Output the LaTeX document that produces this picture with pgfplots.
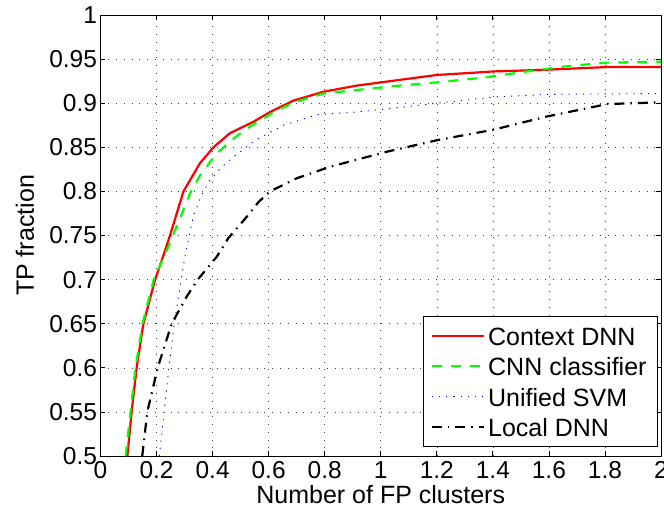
\documentclass[border=0pt]{standalone}
\usepackage{fontspec}
\setmainfont{Liberation Sans}
\usepackage{pgfplots}
\pgfplotsset{compat=1.18}
\begin{document}
\begin{tikzpicture}
\path[use as bounding box] (-100.5pt,-58pt) rectangle (563.5pt,456pt);
\begin{axis}[
  scale only axis,
  width=560.5pt, height=441pt,
  xmin=0, xmax=2, ymin=0.5, ymax=1,
  xtick={0,0.2,...,2.01},
  ytick={0.5,0.55,...,1.001},
  xticklabels={0,0.2,0.4,0.6,0.8,1,1.2,1.4,1.6,1.8,2},
  yticklabels={0.5,0.55,0.6,0.65,0.7,0.75,0.8,0.85,0.9,0.95,1},
  /pgf/number format/assume math mode=true,
  tick align=inside,
  major tick length=5pt,
  tick style={black, line width=0.8pt},
  axis line style={black, line width=1pt},
  grid=major,
  grid style={black!75, line width=0.6pt, dash pattern=on 0.8pt off 7pt},
  ticklabel style={font=\fontsize{24.5}{29}\selectfont},
  xticklabel style={yshift=-2pt},
  xlabel={Number of FP clusters},
  ylabel={TP fraction},
  label style={font=\fontsize{25}{30}\selectfont},
  xlabel style={at={(axis description cs:0.5,-0.1066)}, anchor=base},
  ylabel style={at={(axis description cs:-0.135,0.5)}, anchor=center, rotate=0},
  legend style={at={(axis description cs:0.994,0.021)}, anchor=south east,
    draw=black, line width=0.8pt, fill=white,
    font=\fontsize{25}{30}\selectfont,
    inner xsep=7.4pt, inner ysep=5pt, row sep=2.5pt,
    nodes={inner xsep=3.3pt, inner ysep=2pt, text height=21.5pt, text depth=2.5pt}},
  legend cell align=left,
  legend image code/.code={\draw[#1] (0pt,0pt) -- (52pt,0pt);},
]
\addplot[red, line width=2.2pt] coordinates {
(0.096,0.5) (0.111,0.55) (0.129,0.6) (0.153,0.65) (0.195,0.70) (0.222,0.725)
(0.250,0.752) (0.296,0.800) (0.355,0.832) (0.403,0.850) (0.462,0.866)
(0.546,0.879) (0.605,0.890) (0.689,0.903) (0.796,0.913) (0.915,0.920) (1.034,0.925)
(1.2,0.932) (1.403,0.936) (1.594,0.938) (1.808,0.941) (2.0,0.941)};
\addlegendentry{Context DNN}
\addplot[color={rgb,255:red,0;green,255;blue,0}, line width=2.2pt, dash pattern=on 10pt off 9pt] coordinates {
(0.090,0.5) (0.107,0.55) (0.125,0.6) (0.150,0.65) (0.190,0.70) (0.242,0.737)
(0.320,0.798) (0.355,0.818) (0.409,0.841) (0.456,0.855) (0.516,0.870)
(0.629,0.892) (0.701,0.902)
(0.796,0.911) (0.915,0.915) (1.034,0.919) (1.213,0.924) (1.367,0.929)
(1.522,0.936) (1.665,0.942) (1.808,0.946) (2.0,0.947)};
\addlegendentry{CNN classifier}
\addplot[blue, line width=0.9pt, dash pattern=on 1.2pt off 6pt] coordinates {
(0.210,0.5) (0.227,0.55) (0.244,0.6) (0.263,0.65) (0.288,0.70) (0.302,0.728)
(0.314,0.745) (0.331,0.772) (0.361,0.796) (0.391,0.813) (0.427,0.826)
(0.474,0.839) (0.552,0.858) (0.653,0.875) (0.772,0.887)
(0.915,0.890) (1.034,0.894) (1.2,0.900) (1.403,0.907) (1.594,0.910) (2.0,0.911)};
\addlegendentry{Unified SVM}
\addplot[black, line width=2.2pt, dash pattern=on 10pt off 6pt on 1.5pt off 6pt] coordinates {
(0.149,0.5) (0.167,0.55) (0.204,0.6) (0.254,0.65) (0.308,0.681)
(0.347,0.70) (0.415,0.726) (0.456,0.747) (0.516,0.769) (0.564,0.788) (0.605,0.800)
(0.701,0.815) (0.820,0.828) (1.022,0.845) (1.2,0.858) (1.403,0.870)
(1.594,0.885) (1.808,0.899) (2.0,0.901)};
\addlegendentry{Local DNN}
\end{axis}
\end{tikzpicture}
\end{document}
